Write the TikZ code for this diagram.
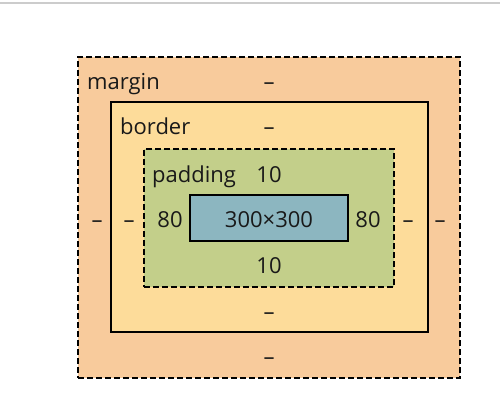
\documentclass[tikz,border=0pt]{standalone}
\usepackage{fontspec}
\setmainfont{Open Sans}
\usepackage{xcolor}
\usepackage{tikz}
\definecolor{margincol}{HTML}{F8CB9C}
\definecolor{bordercol}{HTML}{FDDC9A}
\definecolor{paddingcol}{HTML}{C3CF8A}
\definecolor{contentcol}{HTML}{8CB6C0}
\tikzstyle{layer} = [rectangle, draw=black, line width=1.8pt, inner sep=0pt]
\tikzstyle{dashedlayer} = [layer, dash pattern=on 6pt off 3pt]
\tikzstyle{lbl} = [inner sep=0pt, anchor=base, font=\fontsize{22}{24}\selectfont, text=black!90]

\begin{document}
\begin{tikzpicture}[x=1pt, y=-1pt]
    \useasboundingbox (0,0) rectangle (500,401);
    \draw[black!20, line width=1.5pt] (0,3) -- (500,3);

    % Boxes
    \node (margin) [dashedlayer, fill=margincol, minimum width=382pt, minimum height=321pt] at (269,217.5) {};
    \node (border) [layer, fill=bordercol, minimum width=317pt, minimum height=230pt] at (269.5,217) {};
    \node (padding) [dashedlayer, fill=paddingcol, minimum width=250pt, minimum height=138pt] at (269,218) {};
    \node (content) [layer, fill=contentcol, minimum width=158pt, minimum height=46pt] at (269,218) {};

    % Labels
    \node (mname) [lbl, anchor=base west] at (87,90) {margin};
    \node (bname) [lbl, anchor=base west] at (120,135) {border};
    \node (pname) [lbl, anchor=base west] at (152,182) {padding};
    \node (mtop) [lbl] at (269,90) {–};
    \node (btop) [lbl] at (269,135) {–};
    \node (ptop) [lbl] at (269,182) {10};
    \node (size) [lbl] at (269,227) {300×300};
    \node (pleft) [lbl] at (170,227) {80};
    \node (pright) [lbl] at (368,227) {80};
    \node (bleft) [lbl] at (129,227) {–};
    \node (bright) [lbl] at (408,227) {–};
    \node (mleft) [lbl] at (97,227) {–};
    \node (mright) [lbl] at (440,227) {–};
    \node (pbot) [lbl] at (269,273) {10};
    \node (bbot) [lbl] at (269,319) {–};
    \node (mbot) [lbl] at (269,364) {–};
\end{tikzpicture}
\end{document}
